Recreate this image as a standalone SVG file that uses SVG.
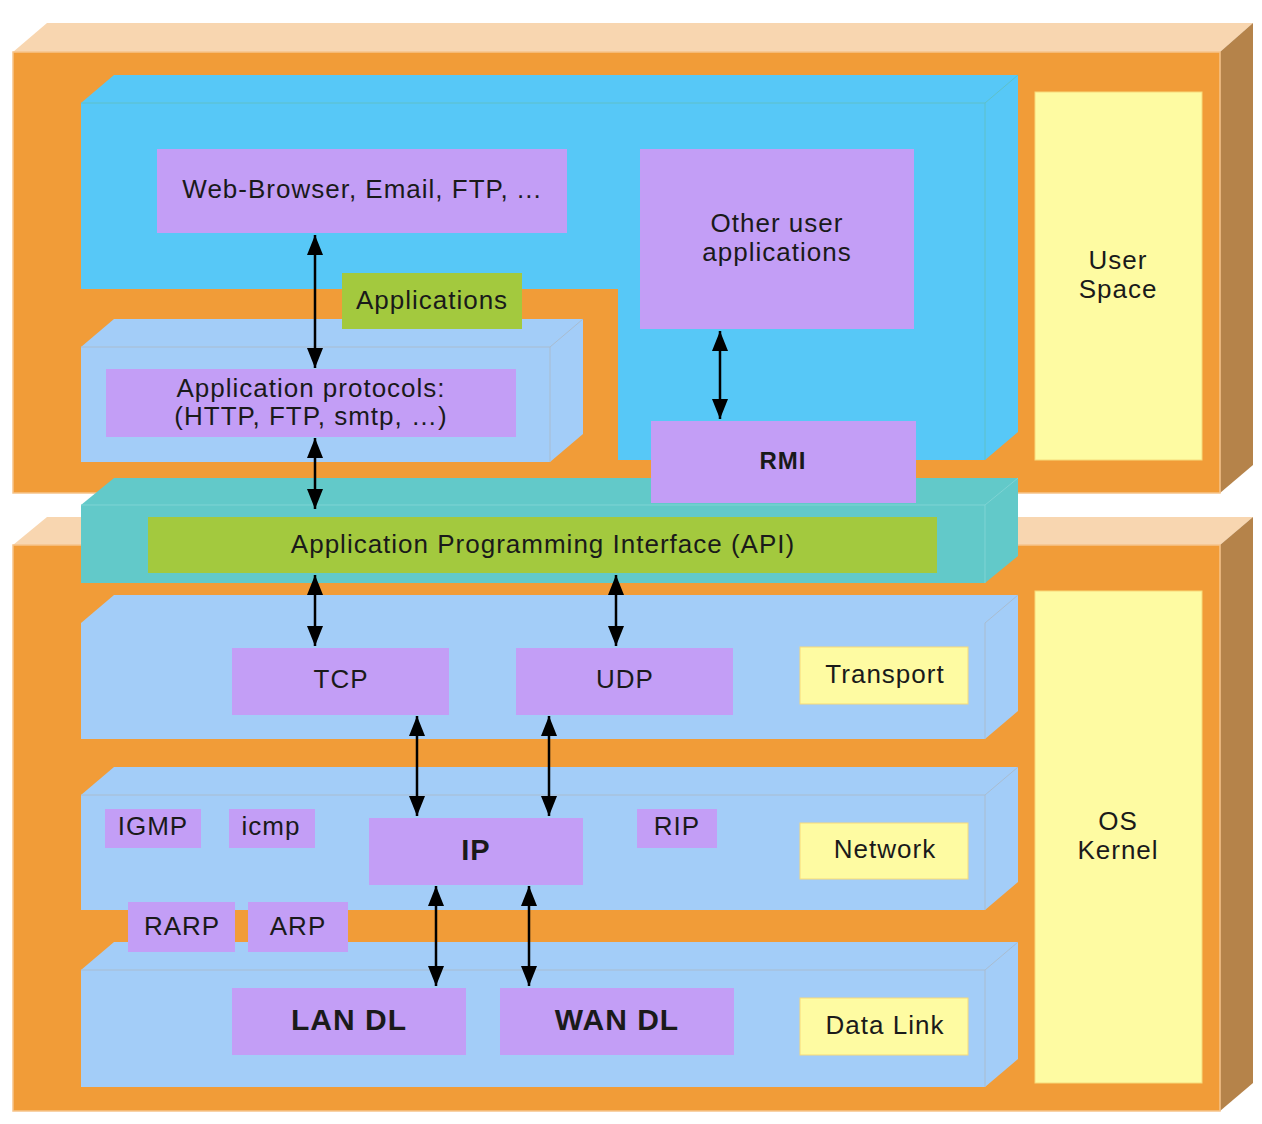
<svg xmlns="http://www.w3.org/2000/svg" width="1262" height="1124" viewBox="0 0 1262 1124">
<defs>
<style>
.orange{fill:#F19C38;stroke:#F6C48A;stroke-width:1.5}
.peach{fill:#F8D6B0}
.brown{fill:#B5834A}
.cyan{fill:#57C8F7}
.cyanE{fill:none;stroke:#5FC0C8;stroke-width:1}
.lb{fill:#A3CDF8}
.lbE{fill:none;stroke:#A9BCCF;stroke-width:1}
.teal{fill:#62C9C9}
.tealE{fill:none;stroke:#7ED4D4;stroke-width:1}
.purple{fill:#C39EF6}
.green{fill:#A3C93E}
.yellow{fill:#FEFBA2;stroke:#F7DA7A;stroke-width:1}
text{font-family:"Liberation Sans",Arial,sans-serif;font-size:26px;fill:#1a1a1a;text-anchor:middle;letter-spacing:1px}
text.b{font-weight:bold}
.arr{stroke:#000;stroke-width:2.5;fill:none;marker-start:url(#ah);marker-end:url(#ah)}
</style>
<marker id="ah" viewBox="0 0 20 16" refX="20" refY="8" markerWidth="20" markerHeight="16" markerUnits="userSpaceOnUse" orient="auto-start-reverse">
<path d="M0,0 L20,8 L0,16 z" fill="#000"/>
</marker>
</defs>

<g id="user-space-box">
<polygon class="peach" points="13,52 47,23 1253,23 1220,52"/>
<polygon class="brown" points="1220,52 1253,23 1253,465 1220,493"/>
<rect class="orange" x="13" y="52" width="1207" height="441"/>
</g>

<g id="kernel-box">
<polygon class="peach" points="13,545 47,517 1253,517 1220,545"/>
<polygon class="brown" points="1220,545 1253,517 1253,1083 1220,1111"/>
<rect class="orange" x="13" y="545" width="1207" height="566"/>
</g>

<g id="applications-layer">
<polygon class="cyan" points="81,103 114,75 1018,75 1018,432 985,460 618,460 618,289 81,289"/>
<polyline class="cyanE" points="81,103 985,103 985,460"/>
<line class="cyanE" x1="985" y1="103" x2="1018" y2="75"/>
</g>

<g id="app-protocols-layer">
<polygon class="lb" points="81,347 114,319 583,319 583,434 550,462 81,462"/>
<polyline class="lbE" points="81,347 550,347 550,462"/>
<line class="lbE" x1="550" y1="347" x2="583" y2="319"/>
</g>

<g id="applications-label">
<rect class="green" x="342" y="273" width="180" height="56"/>
<text x="432" y="309">Applications</text>
</g>

<g id="web-browser">
<rect class="purple" x="157" y="149" width="410" height="84"/>
<text x="362" y="198">Web-Browser, Email, FTP, ...</text>
</g>

<g id="other-apps">
<rect class="purple" x="640" y="149" width="274" height="180"/>
<text x="777" y="232">Other user</text>
<text x="777" y="261">applications</text>
</g>

<g id="app-protocols">
<rect class="purple" x="106" y="369" width="410" height="68"/>
<text x="311" y="397">Application protocols:</text>
<text x="311" y="425">(HTTP, FTP, smtp, …)</text>
</g>

<g id="user-space">
<rect class="yellow" x="1035" y="92" width="167" height="368"/>
<text x="1118" y="269">User</text>
<text x="1118" y="298">Space</text>
</g>

<g id="api-layer">
<polygon class="teal" points="81,505 114,478 1018,478 1018,556 985,583 81,583"/>
<polyline class="tealE" points="81,505 985,505 985,583"/>
<line class="tealE" x1="985" y1="505" x2="1018" y2="478"/>
<rect class="green" x="148" y="517" width="789" height="56"/>
<text x="543" y="553">Application Programming Interface (API)</text>
</g>

<g id="rmi">
<rect class="purple" x="651" y="421" width="265" height="82"/>
<text class="b" x="783" y="469" style="font-size:24px">RMI</text>
</g>

<g id="transport-layer">
<polygon class="lb" points="81,623 114,595 1018,595 1018,711 985,739 81,739"/>
<polyline class="lbE" points="985,623 985,739"/>
<line class="lbE" x1="985" y1="623" x2="1018" y2="595"/>
</g>

<g id="network-layer">
<polygon class="lb" points="81,795 114,767 1018,767 1018,882 985,910 81,910"/>
<polyline class="lbE" points="81,795 985,795 985,910"/>
<line class="lbE" x1="985" y1="795" x2="1018" y2="767"/>
</g>

<g id="datalink-layer">
<polygon class="lb" points="81,970 114,942 1018,942 1018,1059 985,1087 81,1087"/>
<polyline class="lbE" points="81,970 985,970 985,1087"/>
<line class="lbE" x1="985" y1="970" x2="1018" y2="942"/>
</g>

<g id="tcp"><rect class="purple" x="232" y="648" width="217" height="67"/><text x="341" y="688">TCP</text></g>
<g id="udp"><rect class="purple" x="516" y="648" width="217" height="67"/><text x="625" y="688">UDP</text></g>
<g id="transport"><rect class="yellow" x="800" y="647" width="168" height="57"/><text x="885" y="683">Transport</text></g>

<g id="igmp"><rect class="purple" x="105" y="809" width="96" height="39"/><text x="153" y="835">IGMP</text></g>
<g id="icmp"><rect class="purple" x="229" y="809" width="86" height="39"/><text x="271" y="835">icmp</text></g>
<g id="ip"><rect class="purple" x="369" y="818" width="214" height="67"/><text class="b" x="476" y="860" style="font-size:29px">IP</text></g>
<g id="rip"><rect class="purple" x="637" y="809" width="80" height="39"/><text x="677" y="835">RIP</text></g>
<g id="network"><rect class="yellow" x="800" y="823" width="168" height="56"/><text x="885" y="858">Network</text></g>

<g id="rarp"><rect class="purple" x="128" y="902" width="107" height="50"/><text x="182" y="935">RARP</text></g>
<g id="arp"><rect class="purple" x="248" y="902" width="100" height="50"/><text x="298" y="935">ARP</text></g>

<g id="lan-dl"><rect class="purple" x="232" y="988" width="234" height="67"/><text class="b" x="349" y="1030" style="font-size:30px">LAN DL</text></g>
<g id="wan-dl"><rect class="purple" x="500" y="988" width="234" height="67"/><text class="b" x="617" y="1030" style="font-size:30px">WAN DL</text></g>
<g id="datalink"><rect class="yellow" x="800" y="998" width="168" height="57"/><text x="885" y="1034">Data Link</text></g>

<g id="os-kernel">
<rect class="yellow" x="1035" y="591" width="167" height="492"/>
<text x="1118" y="830">OS</text>
<text x="1118" y="859">Kernel</text>
</g>

<g id="connectors">
<line class="arr" x1="315" y1="235" x2="315" y2="368"/>
<line class="arr" x1="315" y1="438" x2="315" y2="509"/>
<line class="arr" x1="720" y1="331" x2="720" y2="419"/>
<line class="arr" x1="315" y1="575" x2="315" y2="646"/>
<line class="arr" x1="616" y1="575" x2="616" y2="646"/>
<line class="arr" x1="417" y1="716" x2="417" y2="816"/>
<line class="arr" x1="549" y1="716" x2="549" y2="816"/>
<line class="arr" x1="436" y1="886" x2="436" y2="986"/>
<line class="arr" x1="529" y1="886" x2="529" y2="986"/>
</g>
</svg>
